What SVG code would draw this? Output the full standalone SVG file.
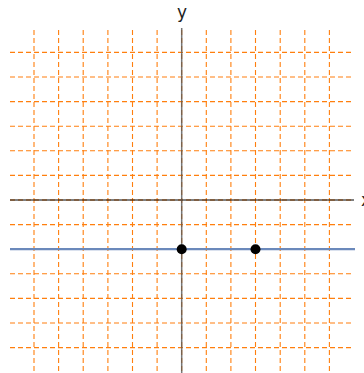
<svg xmlns="http://www.w3.org/2000/svg" width="364" height="373" viewBox="0 0 364 373">
<style>
.grid line{stroke:#ff7f0e;stroke-width:1.1;stroke-dasharray:5,3;fill:none}
.axis{stroke:#000;stroke-width:1}
.yaxis{stroke:#555;stroke-opacity:0.8;stroke-width:1.5}
.lbl{font-family:"DejaVu Sans",sans-serif;font-size:17px;fill:#222}
.pt{fill:#000}
</style>
<rect width="364" height="373" fill="#fff"/>
<g id="grid" class="grid">
<line x1="34" y1="30" x2="34" y2="373"/>
<line x1="58.6" y1="30" x2="58.6" y2="373"/>
<line x1="83.2" y1="30" x2="83.2" y2="373"/>
<line x1="107.9" y1="30" x2="107.9" y2="373"/>
<line x1="132.5" y1="30" x2="132.5" y2="373"/>
<line x1="157.1" y1="30" x2="157.1" y2="373"/>
<line x1="181.7" y1="30" x2="181.7" y2="373"/>
<line x1="206.3" y1="30" x2="206.3" y2="373"/>
<line x1="230.9" y1="30" x2="230.9" y2="373"/>
<line x1="255.5" y1="30" x2="255.5" y2="373"/>
<line x1="280.2" y1="30" x2="280.2" y2="373"/>
<line x1="304.8" y1="30" x2="304.8" y2="373"/>
<line x1="329.4" y1="30" x2="329.4" y2="373"/>
<line x1="10" y1="52.4" x2="353" y2="52.4"/>
<line x1="10" y1="77" x2="353" y2="77"/>
<line x1="10" y1="101.6" x2="353" y2="101.6"/>
<line x1="10" y1="126.2" x2="353" y2="126.2"/>
<line x1="10" y1="150.8" x2="353" y2="150.8"/>
<line x1="10" y1="175.4" x2="353" y2="175.4"/>
<line x1="10" y1="200" x2="353" y2="200"/>
<line x1="10" y1="224.6" x2="353" y2="224.6"/>
<line x1="10" y1="249.2" x2="353" y2="249.2"/>
<line x1="10" y1="273.8" x2="353" y2="273.8"/>
<line x1="10" y1="298.4" x2="353" y2="298.4"/>
<line x1="10" y1="323" x2="353" y2="323"/>
<line x1="10" y1="347.6" x2="353" y2="347.6"/>
</g>
<g id="axes">
<line class="axis" x1="10" y1="200" x2="354" y2="200"/>
<line class="yaxis" x1="181.7" y1="28" x2="181.7" y2="373"/>
<text class="lbl" x="182" y="18" text-anchor="middle">y</text>
<text class="lbl" x="361" y="206">x</text>
</g>
<g id="line">
<line x1="10" y1="249.2" x2="355" y2="249.2" stroke="#6b89bb" stroke-width="2.2"/>
</g>
<g id="p1"><circle class="pt" cx="181.7" cy="249.2" r="5"/></g>
<g id="p2"><circle class="pt" cx="255.5" cy="249.2" r="5"/></g>
</svg>
